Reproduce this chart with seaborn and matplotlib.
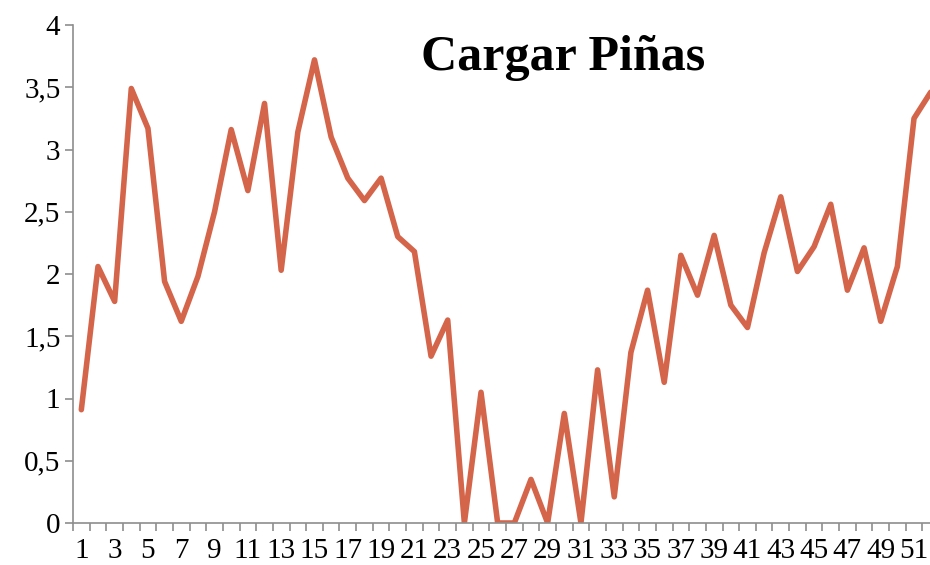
import matplotlib
matplotlib.use('Agg')
import matplotlib.pyplot as plt
import seaborn as sns
import pandas as pd
import numpy as np

# weekly values
semanas = list(range(1, 53))
valores = [0.91, 2.06, 1.78, 3.49, 3.17, 1.94, 1.62, 1.98, 2.50, 3.16,
           2.67, 3.37, 2.03, 3.14, 3.72, 3.10, 2.77, 2.59, 2.77, 2.30,
           2.18, 1.34, 1.63, 0.00, 1.05, 0.00, 0.00, 0.35, 0.00, 0.88,
           0.00, 1.23, 0.21, 1.37, 1.87, 1.13, 2.15, 1.83, 2.31, 1.75,
           1.57, 2.17, 2.62, 2.02, 2.22, 2.56, 1.87, 2.21, 1.62, 2.06,
           3.25, 3.46]
y_ticks = [0, 0.5, 1, 1.5, 2, 2.5, 3, 3.5, 4]
y_tick_labels = ["0", "0,5", "1", "1,5", "2", "2,5", "3", "3,5", "4"]
x_tick_labels = [str(s) for s in semanas if s % 2 == 1]
titulo = "Cargar Piñas"

df = pd.DataFrame({"semana": semanas, "valor": valores})

sns.set_style("white")
plt.rcParams['font.family'] = ['Liberation Serif', 'DejaVu Serif']
plt.rcParams['text.color'] = 'black'

fig = plt.figure(figsize=(9.3, 5.65), dpi=100)
# axes runs a little past the right edge, like the cropped original
ax = fig.add_axes([73 / 930, 42 / 565, 866 / 930, 498 / 565])

sns.lineplot(data=df, x="semana", y="valor", ax=ax, color="#D4654A",
             linewidth=4.0, solid_joinstyle='round', solid_capstyle='round')

ax.set_xlim(0.5, 52.5)
ax.set_ylim(0, 4)
ax.set_xlabel("")
ax.set_ylabel("")

grey = "#8E8E8E"
for side in ["top", "right"]:
    ax.spines[side].set_visible(False)
for side in ["left", "bottom"]:
    ax.spines[side].set_color(grey)
    ax.spines[side].set_linewidth(1.2)

ax.set_yticks(y_ticks)
ax.set_yticklabels(y_tick_labels)
ax.set_xticks([s for s in semanas if s % 2 == 1])
ax.set_xticklabels(x_tick_labels)
ax.set_xticks(np.arange(0.5, 53, 1), minor=True)

ax.tick_params(axis='y', which='major', direction='out', length=6, width=1.2,
               color=grey, labelsize=21, pad=3, left=True, labelcolor='black')
ax.tick_params(axis='x', which='major', length=0, labelsize=21, pad=11,
               labelcolor='black')
ax.tick_params(axis='x', which='minor', direction='out', length=6, width=1.2,
               color=grey, bottom=True)

fig.text(0.605, 0.897, titulo, ha='center', va='center', fontsize=36,
         fontweight='bold', color='black')

fig.savefig("out.png", dpi=100)
